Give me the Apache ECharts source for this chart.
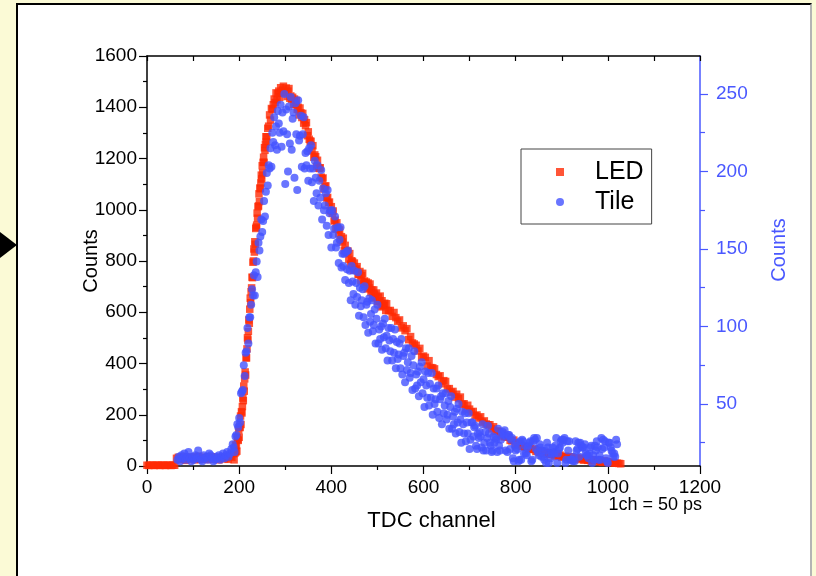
<!DOCTYPE html>
<html>
<head>
<meta charset="utf-8">
<script src="https://cdn.jsdelivr.net/npm/echarts@6/dist/echarts.min.js"></script>
<style>
  html, body { margin: 0; padding: 0; background: #fbfad6; }
  #page { position: absolute; left: 0; top: 0; width: 816px; height: 576px; overflow: hidden; }
  #panel { position: absolute; left: 16px; top: 3px; width: 796px; height: 580px; box-sizing: border-box;
           background: #fff; border-left: 2px solid #000; border-top: 2px solid #000; border-right: 2px solid #b4b4b4; }
  #pointer { position: absolute; left: 0; top: 232px; width: 17px; height: 26px; background: #000;
             clip-path: polygon(0 0, 100% 50%, 0 100%); }
  #chart { position: absolute; left: 0; top: 0; width: 816px; height: 576px; }
</style>
</head>
<body>
<div id="page">
  <div id="panel"></div>
  <div id="pointer"></div>
  <div id="chart"></div>
</div>
<script>
// ---- LED histogram (left axis), counts per TDC channel, stored in channel segments ----
const ledBaseline = [3, 2, 3, 3, 2, 3, 3, 2, 3, 3, 2, 3, 3, 2, 3, 3];            // ch 0..60, step 4
const ledPedestal = [30, 34, 25, 28, 36, 22, 31, 27, 35, 29, 24, 33, 38, 26, 30, 28,
  34, 25, 31, 36, 27, 29, 33, 24, 30, 35, 28, 32, 26, 38, 34];                       // ch 64..184, step 4
const ledRise = [48, 24, 63, 51, 82, 55, 80, 58, 110, 103, 100, 140, 112, 152, 150, 195,
  162, 212, 207, 232, 265, 255, 312, 292, 340, 367, 355, 422, 422, 457, 500, 492,
  525, 570, 557, 612, 655, 637, 680, 695, 737, 735, 795, 800, 847, 835, 875, 865,
  927, 932, 940, 987, 967, 1012, 1015, 1062, 1032, 1085, 1082, 1105, 1135, 1120, 1172, 1145,
  1185, 1205, 1185, 1242, 1232, 1255, 1285, 1265, 1285];                             // ch 188..260, step 1
const ledPeak = [1318, 1326, 1370, 1350, 1395, 1392, 1410, 1432, 1418, 1456,
  1429, 1454, 1463, 1439, 1476, 1458, 1467, 1482, 1456, 1461,
  1475, 1442, 1463, 1473, 1435, 1444, 1431, 1439, 1411, 1432,
  1412, 1426, 1392, 1400, 1370, 1397, 1378, 1360, 1376, 1338,
  1351, 1328, 1340, 1289, 1304, 1275, 1268, 1267, 1231, 1250,
  1205, 1214, 1207, 1169, 1193, 1163, 1161, 1164, 1127, 1121,
  1124, 1081, 1092, 1093, 1046, 1048, 1028, 1030, 996, 1012,
  986, 995, 956, 959, 925, 949, 927, 907, 921, 882,
  895, 874, 889, 842, 861, 837, 835, 839, 807, 829,
  788, 801, 798, 764, 792, 766, 769, 778, 747, 748,
  759, 724, 743, 752, 713, 722, 709, 718, 691, 714,
  695, 710, 678, 687, 658, 687, 670, 656, 675, 641,
  659, 643, 663, 621, 645, 625, 627, 635, 607, 633];                                // ch 262..520, step 2
const ledTail = [606, 607, 584, 599, 579, 565, 570, 539, 547,
  528, 536, 493, 505, 480, 476, 471, 449, 459, 425,
  429, 424, 390, 411, 384, 383, 379, 357, 349, 352,
  321, 333, 330, 301, 302, 288, 291, 269, 280, 263,
  269, 241, 243, 220, 237, 222,
  211, 213, 196, 199, 187, 192, 171, 176, 164, 161,
  161, 145, 153, 135, 137, 133, 117, 127, 114, 113,
  114, 100, 98, 101, 84,
  88, 88, 77, 77, 73, 73, 66, 68, 64, 66,
  57, 60, 52, 57, 50, 53, 46, 50, 45, 49,
  39, 45, 39, 43, 34, 37, 38, 33, 35, 36,
  31, 29, 32, 25, 29, 31, 23, 25, 22, 24,
  19, 24, 21, 23, 16, 19, 14, 20, 16, 17,
  13, 15, 13, 11, 11, 10, 9];                                                        // ch 524..1028, step 4

// ---- Tile histogram (right axis) ----
const tileBaseline = [14, 16, 13, 17, 15, 18, 14, 16, 19, 15, 13, 16, 14, 17, 15, 20,
  16, 14, 13, 17, 15, 16, 14, 18, 17, 15, 13, 14, 16, 15, 17, 14, 16, 18, 15, 17,
  19, 16, 18, 21, 24];                                                               // ch 66..186, step 3
const tileRise = [22, 19, 29, 30, 37, 35, 41,
  38, 57, 58, 59, 75, 68, 83, 84, 99, 89, 106, 106, 114, 124, 120,
  133, 120, 135, 142, 132, 154, 149, 158, 169, 161, 168, 181, 171, 187, 199,
  191, 204, 202, 215, 203, 225, 219, 235, 217, 229, 214, 239, 231, 225, 243];        // ch 188..290, step 2
const tilePeak = [216, 238, 226, 250, 192, 240, 224, 200, 242, 218, 248, 214, 234,
  238, 196, 244, 224, 188, 246, 220, 223, 236, 203, 224, 235,
  202, 212, 204, 213, 194, 215, 202, 217, 193, 202, 181, 207, 196, 186, 204,
  178, 194, 183, 201, 169, 189, 175, 178, 186, 165, 188, 159, 173, 175, 151,
  175, 159, 163, 171, 151, 154, 164, 141, 156, 164, 138, 147, 139, 147, 130,
  148, 137, 149, 128, 136, 117, 139, 129, 121, 136];                                 // ch 292..450, step 2
const tileFall = [114, 128, 119, 135, 107, 125, 113, 117, 124, 106, 126, 101, 114,
  116, 96, 118, 103, 108, 117, 97, 101, 111, 89, 105, 114,
  89, 98, 92, 100, 85, 102, 93, 105, 86, 94, 78, 99, 91, 84, 99,
  78, 92, 83, 98, 73, 90, 79, 82, 89, 73, 92, 69, 81, 83, 64,
  86, 72, 77, 86, 67, 70, 81, 59, 75, 84, 60, 69, 62, 71, 55,
  74, 64, 77, 57, 66, 48, 71, 62, 54, 70, 49, 63, 54, 70, 43,
  60, 50, 53, 60, 45, 62, 41, 53, 55, 37, 57, 44, 49, 57, 40, 43, 52, 34, 48, 55,
  34, 42, 37, 45, 31, 47, 38, 50, 32, 40, 25, 45, 37, 31, 44, 26, 38, 31, 44, 21];   // ch 452..700, step 2
const tileTail = [27, 38, 38, 29, 35, 36, 23, 21, 31, 28, 32, 29, 22, 37, 20, 25,
  32, 20, 28, 36, 31, 25, 23, 19, 20, 29, 25, 28, 27, 19, 34, 23, 20, 27, 31, 32,
  30, 33, 20, 29, 19, 30, 30, 21, 27, 28, 15, 13, 23, 20,
  25, 21, 13, 14, 26, 14, 27, 26, 18, 23, 18, 17, 22, 23, 25, 26, 13, 14, 26, 28,
  27, 21, 28, 19, 17, 24, 22, 16, 20, 16, 14, 20, 12, 25, 22, 12, 18, 15, 18, 22,
  19, 18, 23, 28, 12, 18, 21, 22, 26, 27, 25, 27, 28, 12, 14, 26, 20, 26, 14, 14,
  14, 13, 16, 13, 26, 20, 21, 25, 16, 25, 23, 22, 22, 22, 24, 18, 17, 17, 15, 18,
  22, 23, 12, 17, 14, 23, 20, 26, 22, 14, 17, 14, 28, 21, 27, 22, 26, 15, 13, 12,
  25, 25, 22, 20, 18, 16, 18, 16, 27, 24];                                           // ch 702..1020, step 2

// Segment tables: [first channel, channel step, counts]
const ledSegments = [[0, 4, ledBaseline], [64, 4, ledPedestal], [188, 1, ledRise], [262, 2, ledPeak], [524, 4, ledTail]];
const tileSegments = [[66, 3, tileBaseline], [188, 2, tileRise], [292, 2, tilePeak], [452, 2, tileFall], [702, 2, tileTail]];

// Axis ranges and tick values
const channelRange = [0, 1200];
const leftCountRange = [0, 1600];
const rightCountRange = [10, 274.5];
const rightMajorTicks = [50, 100, 150, 200, 250];
const rightMinorTicks = [25, 75, 125, 175, 225];

const FONT = "'Liberation Sans', Arial, Helvetica, sans-serif";
const RED = '#ff2a05';
const BLUE = '#4352ff';
const AXIS_BLUE = '#4a58ff';

function toPoints(segments) {
  const pts = [];
  segments.forEach(([first, step, counts]) => {
    counts.forEach((c, i) => pts.push([first + i * step, c]));
  });
  return pts;
}
const ledData = toPoints(ledSegments);
const tileData = toPoints(tileSegments);

const plainNumber = v => String(v);
const GRID = { left: 147, right: 116, top: 56, bottom: 110, containLabel: false };

const chart = echarts.init(document.getElementById('chart'), null, { renderer: 'canvas' });

chart.setOption({
  backgroundColor: 'transparent',
  animation: false,
  textStyle: { fontFamily: FONT },
  grid: [Object.assign({}, GRID), Object.assign({}, GRID)],
  legend: {
    left: 521, top: 149,
    orient: 'vertical',
    backgroundColor: '#fff',
    borderColor: '#444', borderWidth: 1,
    padding: [9, 8, 8, 35],
    itemWidth: 8, itemHeight: 8, itemGap: 2,
    textStyle: { fontFamily: FONT, fontSize: 25, color: '#000', lineHeight: 28, padding: [0, 0, 0, 26] },
    data: [{ name: 'LED', icon: 'rect' }, { name: 'Tile', icon: 'circle' }]
  },
  xAxis: [{
    type: 'value', position: 'bottom', gridIndex: 0,
    min: channelRange[0], max: channelRange[1], interval: 200,
    name: 'TDC channel', nameLocation: 'middle', nameGap: 44, nameMoveOverlap: false,
    nameTextStyle: { fontSize: 22, color: '#000', fontFamily: FONT, padding: [0, 0, 0, 16] },
    axisLine: { show: true, onZero: false, lineStyle: { color: '#000', width: 1.5 } },
    axisTick: { show: true, inside: false, length: 8, lineStyle: { color: '#000', width: 1.2 } },
    minorTick: { show: true, splitNumber: 2, length: 4, lineStyle: { color: '#000', width: 1.2 } },
    axisLabel: { fontSize: 19, color: '#000', margin: 12, fontFamily: FONT, formatter: plainNumber },
    splitLine: { show: false }
  }, {
    type: 'value', position: 'top', gridIndex: 0,
    min: channelRange[0], max: channelRange[1], interval: 100,
    axisLine: { show: true, onZero: false, lineStyle: { color: '#000', width: 1.5 } },
    axisTick: { show: true, inside: true, length: 5, lineStyle: { color: '#000', width: 1.2 } },
    axisLabel: { show: false },
    splitLine: { show: false }
  }, {
    type: 'value', gridIndex: 1, show: false,
    min: channelRange[0], max: channelRange[1]
  }],
  yAxis: [{
    type: 'value', position: 'left', gridIndex: 0,
    min: leftCountRange[0], max: leftCountRange[1], interval: 200,
    name: 'Counts', nameLocation: 'middle', nameGap: 46, nameRotate: 90, nameMoveOverlap: false,
    nameTextStyle: { fontSize: 20, color: '#000', fontFamily: FONT },
    axisLine: { show: true, onZero: false, lineStyle: { color: '#000', width: 1.5 } },
    axisTick: { show: true, inside: false, length: 8, lineStyle: { color: '#000', width: 1.2 } },
    minorTick: { show: true, splitNumber: 2, length: 4, lineStyle: { color: '#000', width: 1.2 } },
    axisLabel: { fontSize: 19, color: '#000', margin: 10, fontFamily: FONT, formatter: plainNumber },
    splitLine: { show: false }
  }, {
    type: 'value', position: 'right', gridIndex: 0,
    min: rightCountRange[0], max: rightCountRange[1],
    name: 'Counts', nameLocation: 'middle', nameGap: 69, nameRotate: 90, nameMoveOverlap: false,
    nameTextStyle: { fontSize: 20, color: AXIS_BLUE, fontFamily: FONT, padding: [0, 0, 0, 22] },
    axisLine: { show: true, onZero: false, lineStyle: { color: AXIS_BLUE, width: 1.5 } },
    axisTick: { show: true, inside: false, length: 8, customValues: rightMajorTicks, lineStyle: { color: AXIS_BLUE, width: 1.2 } },
    axisLabel: { fontSize: 19, color: AXIS_BLUE, margin: 16, fontFamily: FONT, customValues: rightMajorTicks },
    splitLine: { show: false }
  }, {
    // minor ticks of the right-hand scale
    type: 'value', position: 'right', gridIndex: 1,
    min: rightCountRange[0], max: rightCountRange[1],
    axisLine: { show: false, onZero: false },
    axisTick: { show: true, inside: false, length: 5, customValues: rightMinorTicks, lineStyle: { color: AXIS_BLUE, width: 1.2 } },
    axisLabel: { show: false },
    splitLine: { show: false }
  }],
  graphic: [{
    type: 'text', x: 702, y: 505,
    style: { text: '1ch = 50 ps', fill: '#000', font: '18px ' + FONT, textAlign: 'right', textVerticalAlign: 'middle' }
  }],
  series: [{
    name: 'LED', type: 'scatter', xAxisIndex: 0, yAxisIndex: 0,
    symbol: 'rect', symbolSize: 7.5,
    itemStyle: { color: RED },
    data: ledData
  }, {
    name: 'Tile', type: 'scatter', xAxisIndex: 0, yAxisIndex: 1,
    symbol: 'circle', symbolSize: 8,
    itemStyle: { color: BLUE },
    data: tileData
  }]
});
</script>
</body>
</html>
